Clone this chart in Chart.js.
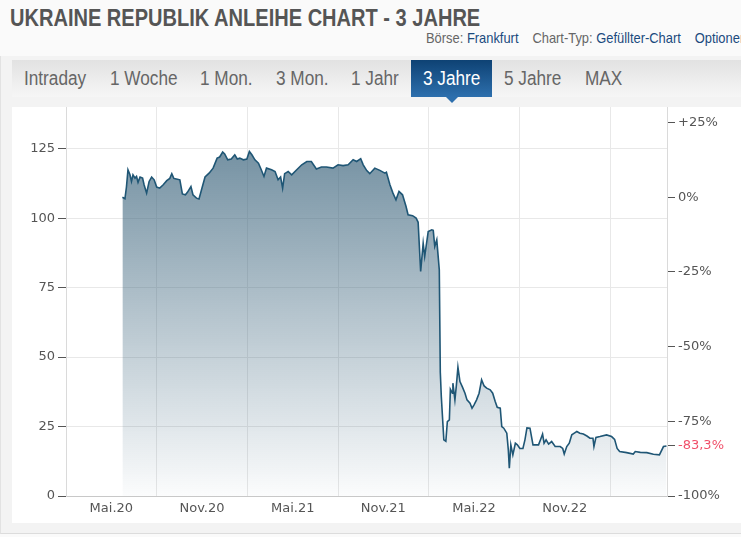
<!DOCTYPE html>
<html lang="de">
<head>
<meta charset="utf-8">
<title>Ukraine Republik Anleihe Chart - 3 Jahre</title>
<script src="https://cdn.jsdelivr.net/npm/chart.js@4.4.1/dist/chart.umd.min.js"></script>
<style>
  body { margin:0; width:741px; height:537px; overflow:hidden; position:relative; background:#fafafa;
         font-family:'Liberation Sans', Arial, sans-serif; }
  /* schmale Schrift nachgebildet */
  .schmal { display:inline-block; transform-origin:left center; white-space:nowrap; }
  #titel { position:absolute; left:10px; top:4px; font-weight:bold; font-size:24px; line-height:28px; color:#555; transform:scaleX(0.835); }
  #info { position:absolute; left:426px; top:29px; font-size:15px; line-height:18px; color:#666; transform:scaleX(0.86); }
  #info a { color:#1b4a7e; text-decoration:none; margin-right:12px; }
  #rahmen { position:absolute; left:0; top:56px; width:740px; height:477px; background:#f3f3f3;
            border-left:1px solid #e2e2e2; border-bottom:1px solid #dcdcdc; }
  #tabs { position:absolute; left:12px; top:60px; width:729px; height:37px; background:linear-gradient(#e2e2e2,#f6f6f6); }
  .tab { position:absolute; top:0; height:37px; line-height:37px; font-size:20px; color:#666; }
  .tab .schmal { transform:scaleX(0.86); }
  .tab.aktiv { background:linear-gradient(#0e4274,#2d6fad); }
  .tab.aktiv .schmal { color:#fff; margin-left:12px; }
  #pfeil { position:absolute; left:446px; top:97px; width:0; height:0;
           border-left:6px solid transparent; border-right:6px solid transparent; border-top:6px solid #2d6fad; }
  #box { position:absolute; left:12px; top:107px; width:729px; height:416px; background:#fff; }
</style>
</head>
<body>
<div id="titel" class="schmal">UKRAINE REPUBLIK ANLEIHE CHART - 3 JAHRE</div>
<div id="info" class="schmal">Börse: <a>Frankfurt</a> Chart-Typ: <a>Gefüllter-Chart</a> <a>Optionen</a></div>
<div id="rahmen"></div>
<div id="tabs">
  <span class="tab" style="left:12px"><span class="schmal">Intraday</span></span>
  <span class="tab" style="left:98px"><span class="schmal">1 Woche</span></span>
  <span class="tab" style="left:188px"><span class="schmal">1 Mon.</span></span>
  <span class="tab" style="left:264px"><span class="schmal">3 Mon.</span></span>
  <span class="tab" style="left:339px"><span class="schmal">1 Jahr</span></span>
  <span class="tab aktiv" style="left:399px;width:81px"><span class="schmal">3 Jahre</span></span>
  <span class="tab" style="left:492px"><span class="schmal">5 Jahre</span></span>
  <span class="tab" style="left:573px"><span class="schmal">MAX</span></span>
</div>
<div id="pfeil"></div>
<div id="box"><canvas id="grafico" width="729" height="416"></canvas></div>

<script>
// Kursdaten
const daten = [
  '2020-05-23','2020-05-28','2020-06-01','2020-06-04','2020-06-08','2020-06-11','2020-06-14','2020-06-18','2020-06-21','2020-06-24',
  '2020-06-28','2020-07-03','2020-07-06','2020-07-11','2020-07-16','2020-07-21','2020-07-26','2020-08-01','2020-08-07','2020-08-14',
  '2020-08-21','2020-08-27','2020-09-01','2020-09-05','2020-09-10','2020-09-17','2020-09-22','2020-09-28','2020-10-02','2020-10-09',
  '2020-10-13','2020-10-20','2020-10-25','2020-10-30','2020-11-07','2020-11-15','2020-11-23','2020-12-01','2020-12-06','2020-12-12',
  '2020-12-16','2020-12-22','2020-12-29','2021-01-06','2021-01-11','2021-01-16','2021-01-23','2021-01-30','2021-02-05','2021-02-10',
  '2021-02-16','2021-02-23','2021-02-28','2021-03-04','2021-03-09','2021-03-19','2021-03-26','2021-04-02','2021-04-07','2021-04-11',
  '2021-04-15','2021-04-22','2021-04-29','2021-05-09','2021-05-19','2021-05-29','2021-06-08','2021-06-18','2021-06-28','2021-07-08',
  '2021-07-21','2021-08-01','2021-08-11','2021-08-21','2021-09-01','2021-09-08','2021-09-16','2021-09-21','2021-09-28','2021-10-04',
  '2021-10-14','2021-10-24','2021-11-04','2021-11-07','2021-11-14','2021-11-20','2021-11-26','2021-12-02','2021-12-09','2021-12-16',
  '2021-12-20','2021-12-29','2022-01-06','2022-01-10','2022-01-15','2022-01-20','2022-01-23','2022-01-30','2022-02-07','2022-02-10',
  '2022-02-13','2022-02-17','2022-02-22','2022-02-24','2022-02-26','2022-03-01','2022-03-05','2022-03-08','2022-03-12','2022-03-14',
  '2022-03-18','2022-03-19','2022-03-23','2022-03-26','2022-03-29','2022-04-03','2022-04-08','2022-04-13','2022-04-17','2022-04-23',
  '2022-04-27','2022-05-01','2022-05-06','2022-05-11','2022-05-16','2022-05-21','2022-05-26','2022-06-03','2022-06-08','2022-06-13',
  '2022-06-17','2022-06-23','2022-06-26','2022-06-30','2022-07-06','2022-07-09','2022-07-11','2022-07-14','2022-07-18','2022-07-23',
  '2022-07-27','2022-08-02','2022-08-08','2022-08-12','2022-08-16','2022-08-22','2022-08-28','2022-09-02','2022-09-09','2022-09-14',
  '2022-09-17','2022-09-20','2022-09-24','2022-09-29','2022-10-05','2022-10-12','2022-10-22','2022-10-27','2022-10-30','2022-11-05',
  '2022-11-10','2022-11-15','2022-11-20','2022-11-25','2022-12-01','2022-12-08','2022-12-15','2022-12-21','2022-12-27','2022-12-29',
  '2023-01-03','2023-01-11','2023-01-24','2023-02-04','2023-02-10','2023-02-15','2023-02-20','2023-03-04','2023-03-17','2023-03-21',
  '2023-03-31','2023-04-14','2023-04-27','2023-05-09','2023-05-17','2023-05-23'
]
const kurs = [
  107.5, 107, 111.2, 117.4, 115.6, 113.2, 115.6, 114.4, 115, 112.9,
  114.8, 114.4, 112, 109, 113.2, 114.8, 113.8, 111.2, 110.8, 112,
  113.5, 114.3, 116, 114.3, 114.1, 113.8, 108.7, 108.4, 109.3, 111.4,
  108.4, 107.2, 106.9, 110.2, 114.8, 116.2, 118, 121.6, 122, 123.8,
  123.1, 121, 121.3, 122.8, 121.3, 121.6, 121, 121.3, 124, 122.8,
  121, 119.8, 117.7, 115, 118, 117.4, 116.8, 113.8, 114.8, 110.8,
  116, 116.8, 115.6, 117.4, 119.2, 120.4, 120.4, 117.7, 118.4, 118.4,
  118, 119.2, 118.9, 119.2, 121, 120.4, 121.4, 119.2, 117.1, 116,
  118, 117.2, 116.2, 116.5, 112, 109, 106.6, 109.6, 108.4, 104.2,
  101.2, 100.9, 100, 98.5, 80.8, 91, 86.2, 95.2, 95.8, 95.6,
  89.8, 92.2, 81.4, 44.5, 35.8, 20.2, 19.7, 26.8, 27.4, 38.4,
  37, 40.6, 34.6, 40, 46.4, 41.2, 39.2, 37, 34.6, 33.4,
  31.6, 32.8, 34.6, 37, 41.8, 39.6, 38.8, 38.2, 37, 34,
  31.9, 31.6, 25, 24.4, 22.6, 16.6, 10, 18.4, 14.8, 19,
  18.4, 17.1, 17.1, 20.2, 24.5, 24.4, 18.4, 18.4, 18.4, 20.8,
  22.3, 19, 20.2, 18.7, 19.6, 17.8, 17.8, 17.1, 15.1, 17.8,
  19, 22, 22.6, 23.2, 22.6, 22.3, 21.6, 20.8, 20.8, 17.8,
  21.1, 21.4, 22, 21.4, 20.4, 17.1, 16, 15.6, 15.1, 16,
  15.7, 15.6, 15, 14.8, 17.8, 18
]

// Achsen
const xStart = '2020-02-01'
const xEnde = '2023-05-24'
const gitterDaten = ['2020-02-01','2020-08-01','2021-02-01','2021-08-01','2022-02-01','2022-08-01','2023-02-01']
const xLabelDaten = ['2020-05-01','2020-11-01','2021-05-01','2021-11-01','2022-05-01','2022-11-01']
const xLabels = ['Mai.20','Nov.20','Mai.21','Nov.21','Mai.22','Nov.22']
const linksTicks = [0, 25, 50, 75, 100, 125]
const rechtsTicks = [-100, -75, -50, -25, 0, 25]
const yMax = 140

// Datum -> Monate seit Jan 2020
const monat = d => {
  const [j, m, t] = d.split('-').map(Number)
  return (j - 2020) * 12 + (m - 1) + (t - 1) / 30
}
const istGitter = v => gitterDaten.some(d => Math.abs(monat(d) - v) < 0.01)

const basis = kurs[0]
const letzte = (kurs[kurs.length - 1] / basis - 1) * 100
const prozentText = v => {
  if (Math.abs(v - letzte) < 0.001) return v.toFixed(1).replace('.', ',') + '%'
  return (v > 0 ? '+' : '') + v + '%'
}
// keine Extra-Abstände um die Zeichenfläche
const ohnePadding = s => { s.paddingTop = 0; s.paddingBottom = 0; s.paddingLeft = 0; s.paddingRight = 0 }

Chart.defaults.font.family = "'DejaVu Sans', sans-serif"
Chart.defaults.font.size = 13
Chart.defaults.color = '#555'

const ctx = document.getElementById('grafico').getContext('2d')
const myChart = new Chart(ctx, {
  type: 'line',
  data: {
    datasets: [{
      data: daten.map((d, i) => ({ x: monat(d), y: kurs[i] })),
      borderColor: '#1f5675',
      borderWidth: 1.6,
      pointRadius: 0,
      tension: 0,
      fill: 'origin',
      backgroundColor: (c) => {
        const area = c.chart.chartArea
        if (!area) return 'rgba(67,107,130,0.4)'
        const g = c.chart.ctx.createLinearGradient(0, area.top, 0, area.bottom)
        g.addColorStop(0, 'rgba(62,102,126,0.8)')
        g.addColorStop(1, 'rgba(62,102,126,0.02)')
        return g
      }
    }]
  },
  options: {
    responsive: false,
    animation: false,
    layout: { padding: 0 },
    plugins: { legend: { display: false }, tooltip: { enabled: false } },
    scales: {
      x: {
        type: 'linear',
        min: monat(xStart),
        max: monat(xEnde),
        afterBuildTicks: s => {
          s.ticks = [...gitterDaten, ...xLabelDaten].map(d => ({ value: monat(d) })).sort((a, b) => a.value - b.value)
        },
        afterFit: s => { s.height = 27; ohnePadding(s) },
        grid: { color: c => istGitter(c.tick.value) ? '#e8e8e8' : 'rgba(0,0,0,0)', drawTicks: false },
        border: { color: '#c8c8c8' },
        ticks: {
          autoSkip: false, maxRotation: 0, padding: 5,
          callback: v => {
            const i = xLabelDaten.findIndex(d => Math.abs(monat(d) - v) < 0.01)
            return i < 0 ? '' : xLabels[i]
          }
        }
      },
      y: {
        position: 'left',
        min: 0,
        max: yMax,
        afterBuildTicks: s => { s.ticks = linksTicks.map(v => ({ value: v })) },
        afterFit: s => { s.width = 54; ohnePadding(s) },
        grid: { color: '#e8e8e8', tickColor: '#555', tickLength: 8 },
        border: { color: '#dadada' },
        ticks: { autoSkip: false, padding: 3 }
      },
      y2: {
        position: 'right',
        min: -100,
        max: (yMax / basis - 1) * 100,
        afterBuildTicks: s => {
          s.ticks = [...rechtsTicks, letzte].sort((a, b) => a - b).map(v => ({ value: v }))
        },
        afterFit: s => { s.width = 74; ohnePadding(s) },
        grid: { drawOnChartArea: false, tickColor: '#555', tickLength: 8 },
        border: { color: '#dadada' },
        ticks: {
          autoSkip: false, padding: 3,
          color: c => Math.abs(c.tick.value - letzte) < 0.001 ? '#f0506a' : '#555',
          callback: v => prozentText(v)
        }
      }
    }
  }
})
</script>
</body>
</html>
